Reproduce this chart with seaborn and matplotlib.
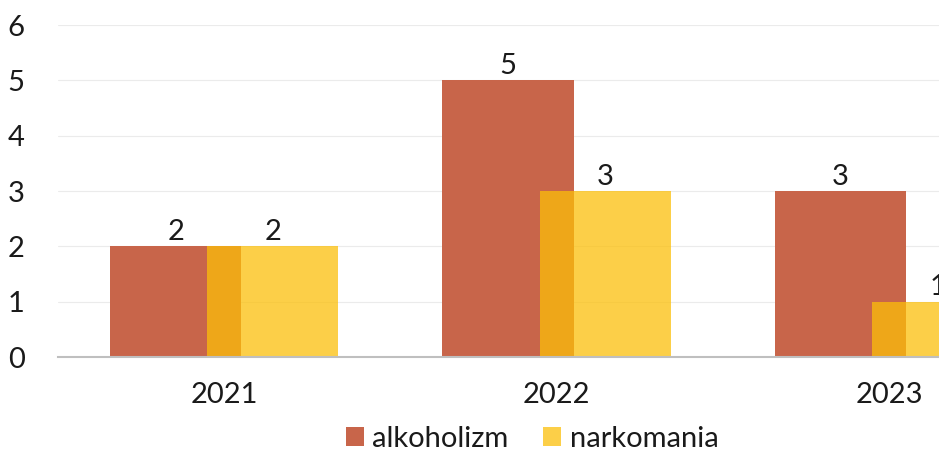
import matplotlib.pyplot as plt
import numpy as np
import pandas as pd
import seaborn as sns

# dane
lata = [2021, 2022, 2023]
alkoholizm = [2, 5, 3]
narkomania = [2, 3, 1]

przesuniecie = 0.146
szerokosc = 0.395

df_alk = pd.DataFrame({"rok": np.array(lata) - przesuniecie, "liczba": alkoholizm})
df_nar = pd.DataFrame({"rok": np.array(lata) + przesuniecie, "liczba": narkomania})

sns.set_theme(style="white")
plt.rcParams["font.family"] = ["Lato", "DejaVu Sans"]

fig = plt.figure(figsize=(9.39, 4.53), dpi=100)
ax = fig.add_axes([58 / 939, 96 / 453, 1 - 58 / 939, 332 / 453])

sns.barplot(data=df_alk, x="rok", y="liczba", native_scale=True, width=szerokosc,
            color="#C8654A", saturation=1, linewidth=0, edgecolor="none",
            label="alkoholizm", ax=ax, zorder=2)
sns.barplot(data=df_nar, x="rok", y="liczba", native_scale=True, width=szerokosc,
            color="#FCBF08", alpha=0.74, saturation=1, linewidth=0, edgecolor="none",
            label="narkomania", ax=ax, zorder=3)

for kontener in ax.containers:
    ax.bar_label(kontener, fmt="%d", fontsize=21, padding=1, color="#1a1a1a")

ax.set_xlim(lata[0] - 0.5, lata[0] + 2.15)
ax.set_ylim(0, 6)
ax.set_yticks(range(0, 7))
ax.set_xticks(lata, [str(r) for r in lata])
ax.tick_params(axis="y", length=0, pad=24, labelsize=21, labelcolor="#1a1a1a")
ax.tick_params(axis="x", length=0, pad=18, labelsize=21, labelcolor="#1a1a1a")
ax.yaxis.grid(True, color="#EBEBEB", linewidth=0.8)
ax.set_axisbelow(True)
ax.set_xlabel("")
ax.set_ylabel("")
for s in ["top", "right", "left"]:
    ax.spines[s].set_visible(False)
ax.spines["bottom"].set_color("#BFBFBF")
ax.spines["bottom"].set_linewidth(1.5)
ax.spines["bottom"].set_zorder(4)

ax.legend(loc="center", bbox_to_anchor=(532 / 939, 14 / 453), bbox_transform=fig.transFigure,
          ncol=2, frameon=False, fontsize=21, handlelength=0.62, handleheight=0.62,
          handletextpad=0.28, columnspacing=1.2, labelcolor="#1a1a1a",
          borderpad=0, borderaxespad=0)

fig.savefig("out.png", dpi=100)
